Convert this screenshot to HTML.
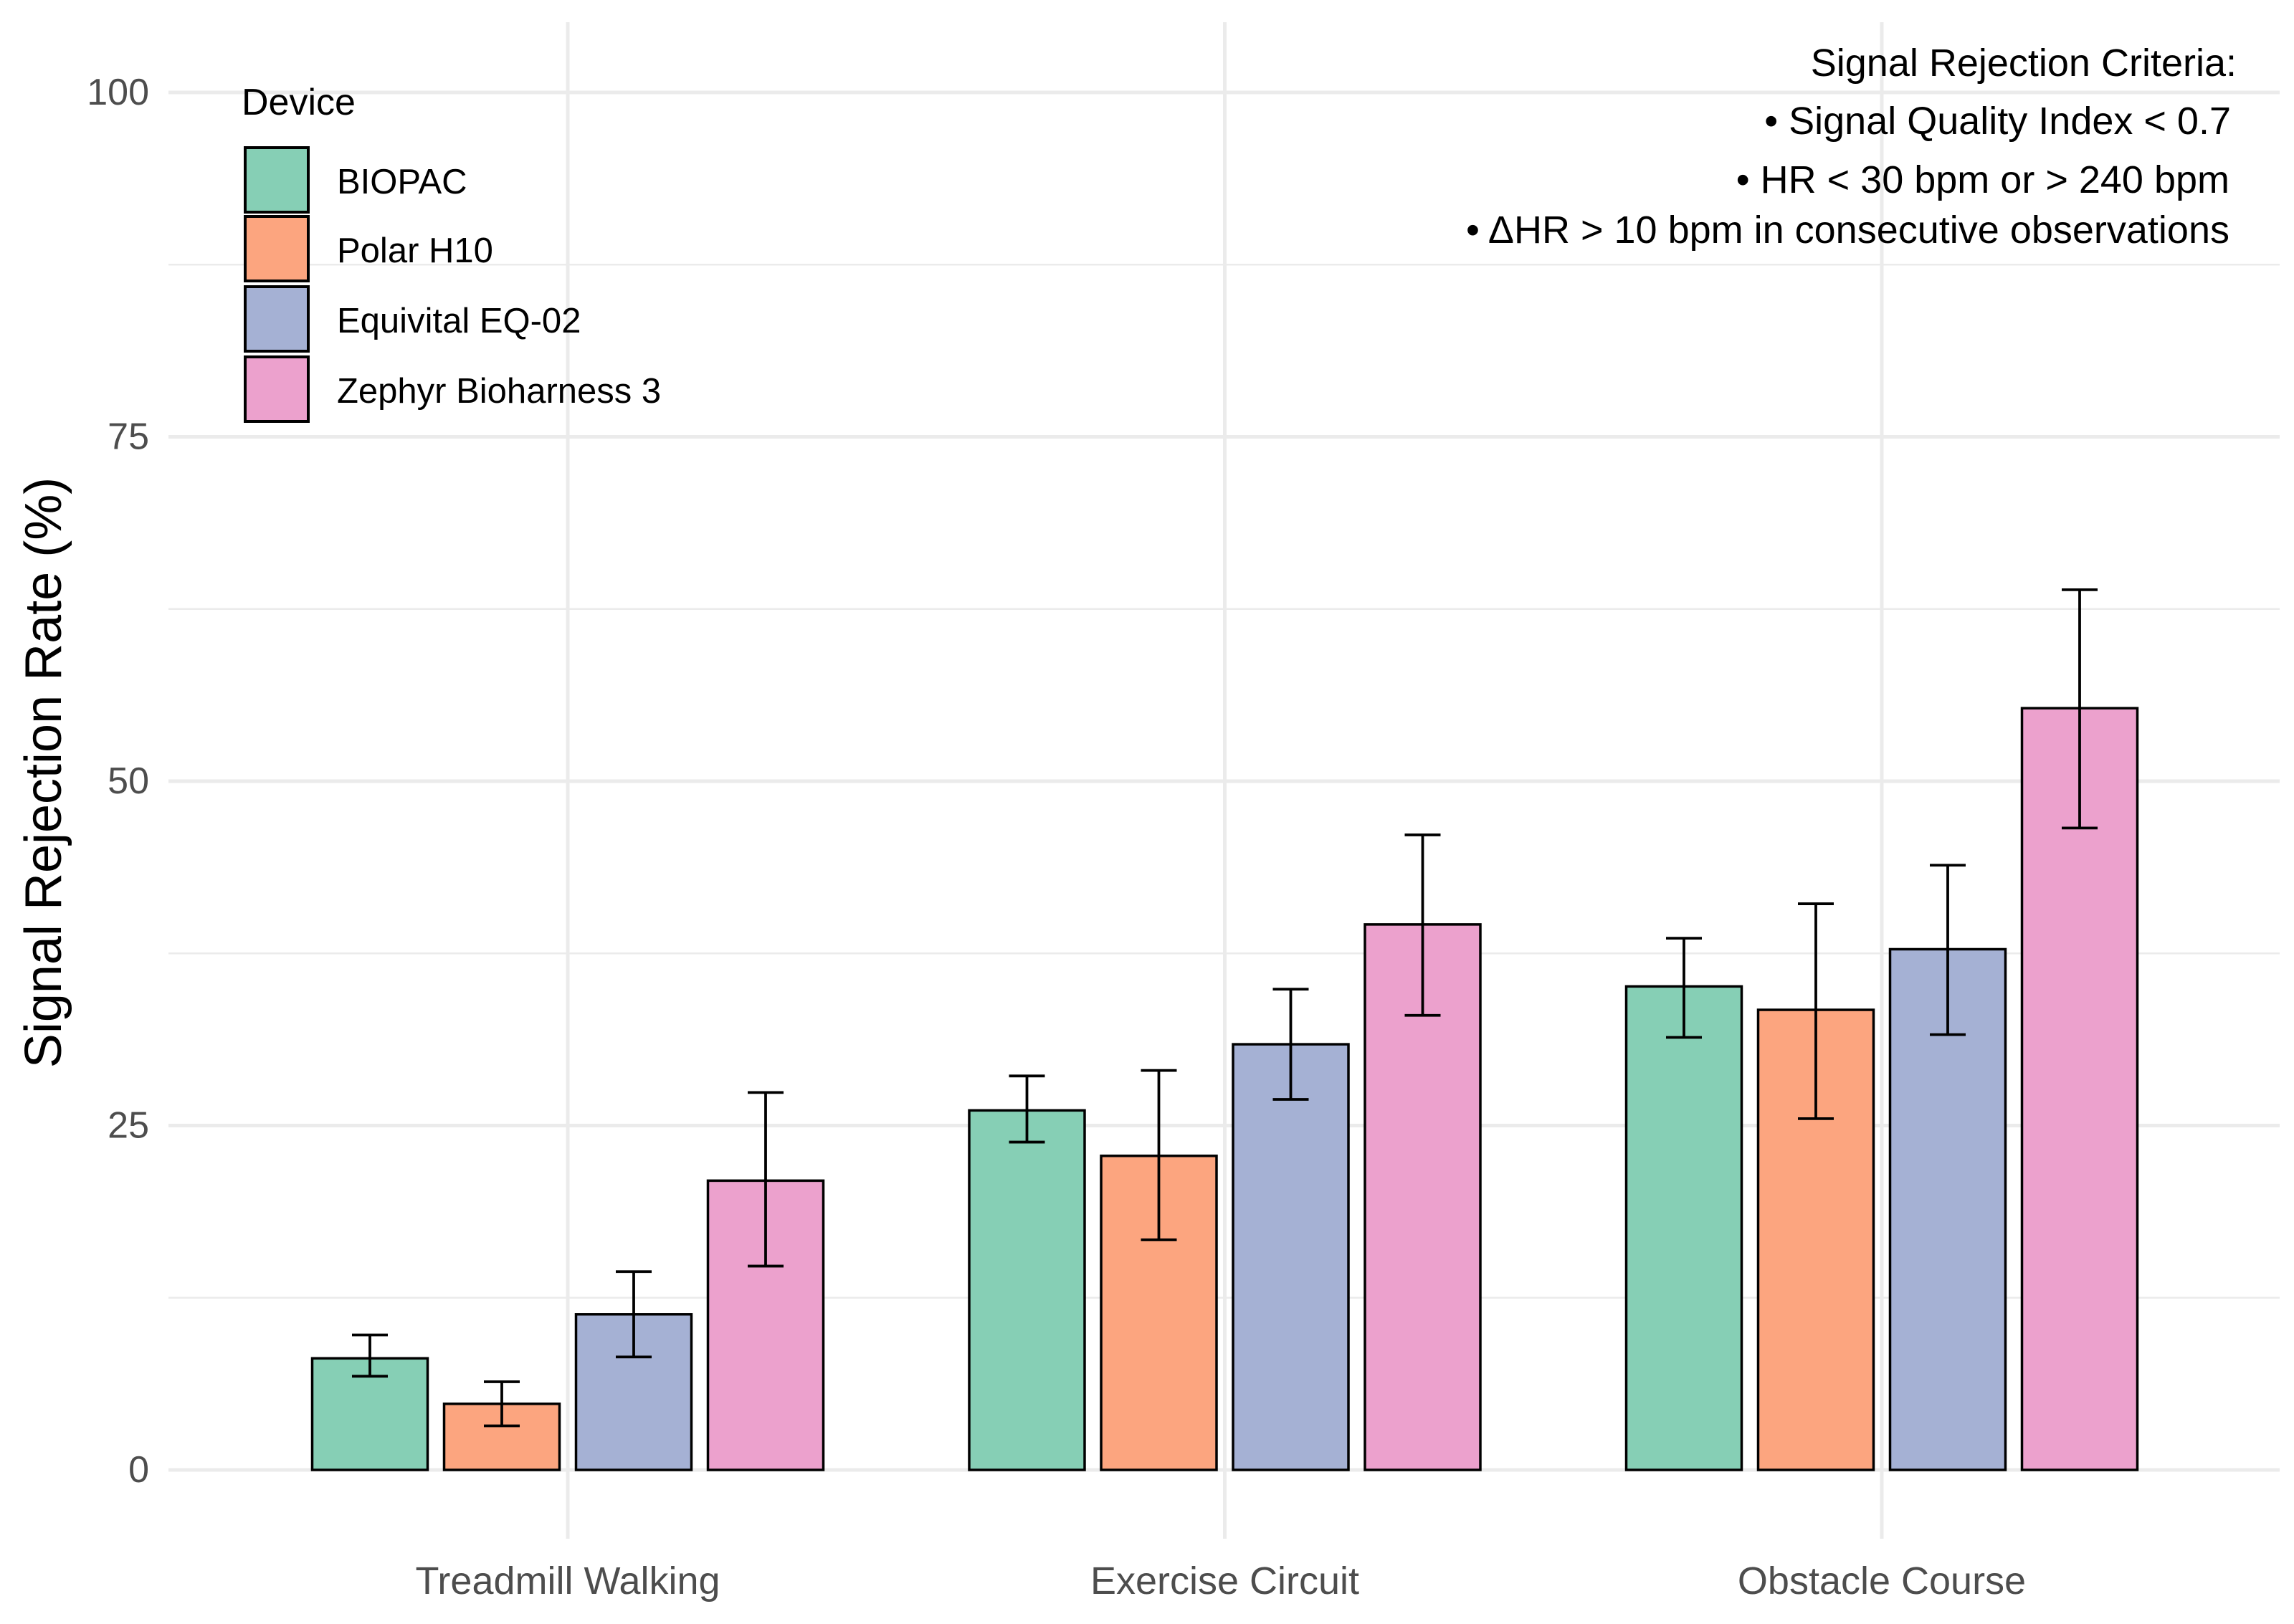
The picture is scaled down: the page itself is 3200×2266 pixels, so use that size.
<!DOCTYPE html>
<html><head><meta charset="utf-8"><style>
html,body{margin:0;padding:0;background:#fff}
svg{display:block;font-family:"Liberation Sans",sans-serif}
</style></head><body>
<svg id="chart" width="3200" height="2266" viewBox="0 0 3200 2266">
<g id="grid"></g>
<g id="bars"></g>
<g id="axes"></g>
<text x="61" y="1078" transform="rotate(-90 61 1078)" text-anchor="middle" dominant-baseline="central" font-size="72" fill="#000">Signal Rejection Rate (%)</text>
<g>
<text x="337" y="160" font-size="52" fill="#000">Device</text>
<g id="legend-items"></g>
</g>
<g font-size="54" fill="#000" text-anchor="end">
<text x="3120" y="106">Signal Rejection Criteria:</text>
<text x="3112" y="187">• Signal Quality Index &lt; 0.7</text>
<text x="3110" y="269">• HR &lt; 30 bpm or &gt; 240 bpm</text>
<text x="3110" y="339">• ΔHR &gt; 10 bpm in consecutive observations</text>
</g>
</svg>
<script>
const categories = ["Treadmill Walking","Exercise Circuit","Obstacle Course"];
const devices = ["BIOPAC","Polar H10","Equivital EQ-02","Zephyr Bioharness 3"];
const colors = ["#86cfb5","#fca57f","#a5b1d4","#eca1cd"];
const biopac = [8.1,26.1,35.1];
const polar = [4.8,22.8,33.4];
const equivital = [11.3,30.9,37.8];
const zephyr = [21.0,39.6,55.3];
const biopacLo = [6.8,23.8,31.4], biopacHi = [9.8,28.6,38.6];
const polarLo = [3.2,16.7,25.5], polarHi = [6.4,29.0,41.1];
const equivitalLo = [8.2,26.9,31.6], equivitalHi = [14.4,34.9,43.9];
const zephyrLo = [14.8,33.0,46.6], zephyrHi = [27.4,46.1,63.9];
const yTicks = [0,25,50,75,100];
const yMinor = [12.5,37.5,62.5,87.5];

const series=[biopac,polar,equivital,zephyr];
const los=[biopacLo,polarLo,equivitalLo,zephyrLo];
const his=[biopacHi,polarHi,equivitalHi,zephyrHi];
const NS="http://www.w3.org/2000/svg";
const y0=2051, pxPerUnit=19.22;
const y=v=>y0-v*pxPerUnit;
const xCenter=i=>792+i*916.5;
const step=184, bw=161;
const xBar=(i,d)=>xCenter(i)+(d-1.5)*step;
function mk(tag,attrs,parent){const e=document.createElementNS(NS,tag);for(const k in attrs)e.setAttribute(k,attrs[k]);parent.appendChild(e);return e;}
const grid=document.getElementById('grid'),bars=document.getElementById('bars'),axes=document.getElementById('axes'),leg=document.getElementById('legend-items');
yMinor.forEach(v=>{const l=mk('line',{x1:235,x2:3180,y1:y(v),y2:y(v),stroke:'#ebebeb','stroke-width':2.5},grid);

});
yTicks.forEach(v=>{const l=mk('line',{x1:235,x2:3180,y1:y(v),y2:y(v),stroke:'#ebebeb','stroke-width':5},grid);


const t=mk('text',{x:208,y:y(v),'text-anchor':'end','dominant-baseline':'central','font-size':52,fill:'#4d4d4d'},axes);t.textContent=v;

});
categories.forEach((c,i)=>{const l=mk('line',{x1:xCenter(i),x2:xCenter(i),y1:31,y2:2147,stroke:'#ebebeb','stroke-width':5},grid);


const t=mk('text',{x:xCenter(i),y:2206,'text-anchor':'middle','dominant-baseline':'central','font-size':54,fill:'#4d4d4d'},axes);t.textContent=c;

});
categories.forEach((c,i)=>{series.forEach((s,d)=>{
const cx=xBar(i,d);
const r=mk('rect',{x:cx-bw/2,y:y(s[i]),width:bw,height:y(0)-y(s[i]),fill:colors[d],stroke:'#000','stroke-width':3.5},bars);


const g=mk('g',{stroke:'#000','stroke-width':3.8},bars);


const lo=y(los[d][i]),hi=y(his[d][i]);
mk('line',{x1:cx,x2:cx,y1:lo,y2:hi},g);
mk('line',{x1:cx-25,x2:cx+25,y1:lo,y2:lo},g);
mk('line',{x1:cx-25,x2:cx+25,y1:hi,y2:hi},g);
});});
const keyY=[206,302,400,498];
devices.forEach((d,k)=>{const r=mk('rect',{x:342,y:keyY[k],width:88,height:90,fill:colors[k],stroke:'#000','stroke-width':4},leg);


const t=mk('text',{x:470,y:keyY[k]+48,'dominant-baseline':'central','font-size':49,fill:'#000'},leg);t.textContent=d;

});
</script>
</body></html>
